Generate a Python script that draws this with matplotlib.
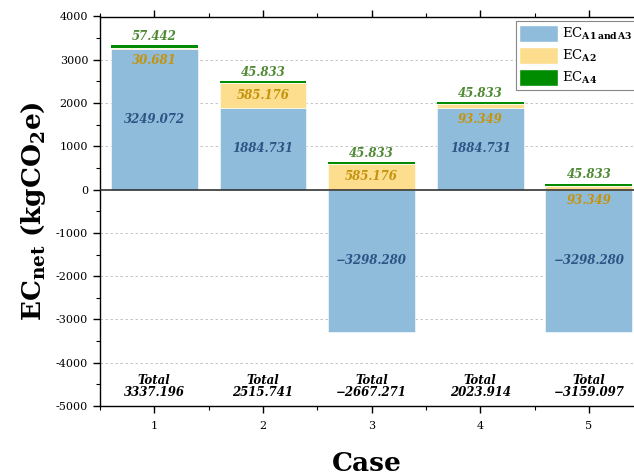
import matplotlib
matplotlib.use("Agg")
import matplotlib.pyplot as plt
import numpy as np
from matplotlib.patches import Patch
from matplotlib.ticker import MultipleLocator

plt.rcParams["font.family"] = "DejaVu Serif"
plt.rcParams["mathtext.fontset"] = "dejavuserif"
plt.rcParams["axes.unicode_minus"] = False

cases = [1, 2, 3, 4, 5]
ec_a1_a3 = [3249.072, 1884.731, -3298.280, 1884.731, -3298.280]
ec_a2 = [30.681, 585.176, 585.176, 93.349, 93.349]
ec_a4 = [57.442, 45.833, 45.833, 45.833, 45.833]
totals = [3337.196, 2515.741, -2667.271, 2023.914, -3159.097]

C_BLUE = "#8fbcdb"
C_YELLOW = "#fddd8e"
C_GREEN = "#008c00"
T_BLUE = "#2c5585"
T_GOLD = "#c4930c"
T_GREEN = "#4f8a34"


def fmt(v: float) -> str:
    s = f"{abs(v):.3f}"
    return ("\u2212" + s) if v < 0 else s


fig = plt.figure(figsize=(6.34, 4.75), dpi=100)
ax = fig.add_axes([100 / 634, 69 / 475, 1 - 100 / 634, 389.5 / 475])

x = np.array(cases, dtype=float)
a1 = np.array(ec_a1_a3)
a2 = np.array(ec_a2)
a4 = np.array(ec_a4)
pos_base = np.where(a1 > 0, a1, 0.0)

ax.bar(x, a1, width=0.8, color=C_BLUE, edgecolor="white", linewidth=0.4, zorder=2)
ax.bar(x, a2, width=0.8, bottom=pos_base, color=C_YELLOW, edgecolor="white", linewidth=0.4, zorder=2)
ax.bar(x, a4, width=0.8, bottom=pos_base + a2, color=C_GREEN, edgecolor="none", zorder=3)

label_kw = dict(ha="center", va="center", fontsize=8.5, fontweight="bold", style="italic")
for xi, v1, v2, v4, base, tot in zip(x, a1, a2, a4, pos_base, totals):
    ax.text(xi, v1 / 2, fmt(v1), color=T_BLUE, **label_kw)
    # small A2 segments get their label just below the segment
    if v2 > 200:
        y2 = base + v2 / 2
    else:
        y2 = base - 260
    ax.text(xi, y2, fmt(v2), color=T_GOLD, **label_kw)
    ax.text(xi, base + v2 + v4 + 200, fmt(v4), color=T_GREEN, **label_kw)
    ax.text(xi, -4550, "Total\n" + fmt(tot), color="black", linespacing=0.85, **label_kw)

ax.axhline(0, color="#333333", lw=1.2, zorder=4)
ax.set_xlim(0.5, 5.415)
ax.set_ylim(-5000, 4000)
ax.set_xticks(cases)
ax.xaxis.set_minor_locator(MultipleLocator(0.5))
ax.yaxis.set_major_locator(MultipleLocator(1000))
ax.yaxis.set_minor_locator(MultipleLocator(500))
ax.tick_params(axis="both", which="major", direction="out", length=5, width=1.0, labelsize=8)
ax.tick_params(axis="both", which="minor", direction="out", length=3, width=0.8)
ax.tick_params(axis="x", top=True, which="both")
ax.tick_params(axis="x", pad=6)
ax.spines["right"].set_visible(False)
for s in ["left", "top", "bottom"]:
    ax.spines[s].set_linewidth(1.0)
for yv in [-4000, -3000, -2000, -1000, 1000, 2000, 3000]:
    ax.axhline(yv, color="#bbbbbb", lw=0.6, ls=(0, (3, 3)), zorder=0)

ax.set_xlabel("Case", fontsize=19, fontweight="bold", labelpad=14)
ax.set_ylabel(r"$\mathbf{EC}_{\mathbf{net}}$ $\mathbf{(kgCO_2e)}$", fontsize=19, labelpad=6)

handles = [
    Patch(facecolor=C_BLUE, edgecolor="white"),
    Patch(facecolor=C_YELLOW, edgecolor="white"),
    Patch(facecolor=C_GREEN, edgecolor="white"),
]
labels = [r"EC$_{\mathbf{A1\,and\,A3}}$", r"EC$_{\mathbf{A2}}$", r"EC$_{\mathbf{A4}}$"]
leg = ax.legend(
    handles, labels, loc="upper left",
    bbox_to_anchor=(516 / 634, 1 - 21.5 / 475), bbox_transform=fig.transFigure,
    borderaxespad=0, fontsize=9.5, fancybox=False, edgecolor="#888888",
    handlelength=2.9, handleheight=1.6, labelspacing=0.4, borderpad=0.25,
    handletextpad=0.35, framealpha=1,
)
leg.get_frame().set_linewidth(0.8)

fig.savefig("out.png", dpi=100)
